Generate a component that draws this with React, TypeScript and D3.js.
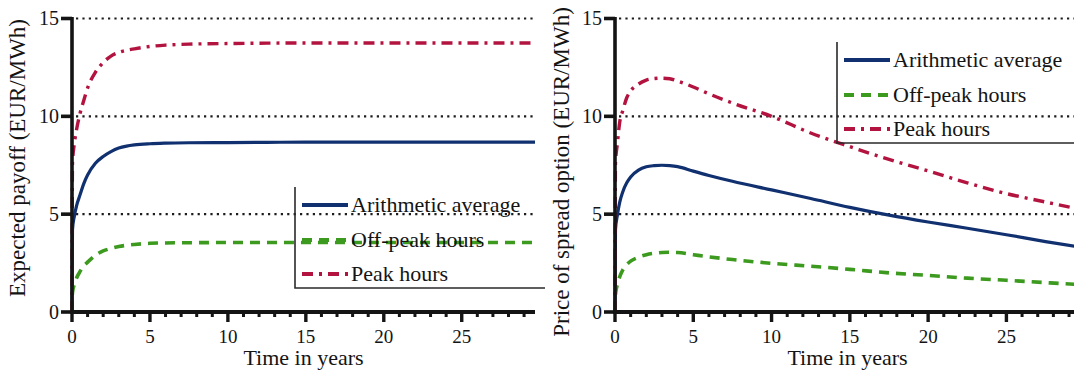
import React from "react";
import * as d3 from "d3";

// Maturity grid (years) shared by all series
const years = [0, 0.03, 0.15, 0.3, 0.5, 0.75, 1, 1.5, 2, 2.5, 3, 3.5, 4, 5, 6, 7.5, 10, 12.5, 15, 17.5, 20, 22.5, 25, 27.5, 29.7];

// Expected payoff (EUR/MWh)
const payoffArithmetic = [0, 4.2, 4.9, 5.45, 5.95, 6.55, 7.0, 7.6, 7.95, 8.2, 8.38, 8.48, 8.54, 8.6, 8.63, 8.65, 8.66, 8.67, 8.68, 8.68, 8.68, 8.68, 8.68, 8.68, 8.68];
const payoffOffPeak = [0, 1.0, 1.4, 1.75, 2.05, 2.35, 2.55, 2.9, 3.12, 3.25, 3.35, 3.41, 3.45, 3.51, 3.53, 3.54, 3.55, 3.55, 3.55, 3.55, 3.55, 3.55, 3.55, 3.55, 3.55];
const payoffPeak = [0, 7.6, 8.6, 9.35, 10.1, 10.8, 11.45, 12.25, 12.75, 13.08, 13.27, 13.38, 13.45, 13.57, 13.64, 13.69, 13.72, 13.74, 13.75, 13.75, 13.75, 13.75, 13.75, 13.75, 13.75];

// Price of spread option (EUR/MWh)
const priceArithmetic = [0, 4.2, 4.95, 5.6, 6.15, 6.6, 6.9, 7.25, 7.42, 7.48, 7.5, 7.48, 7.43, 7.2, 6.98, 6.68, 6.24, 5.8, 5.35, 4.95, 4.6, 4.28, 3.95, 3.6, 3.32];
const priceOffPeak = [0, 0.9, 1.4, 1.8, 2.15, 2.42, 2.6, 2.8, 2.93, 3.0, 3.04, 3.05, 3.04, 2.93, 2.82, 2.68, 2.49, 2.34, 2.18, 2.0, 1.87, 1.73, 1.62, 1.5, 1.4];
const pricePeak = [0, 7.6, 8.6, 9.7, 10.3, 10.95, 11.3, 11.65, 11.85, 11.93, 11.95, 11.92, 11.8, 11.5, 11.15, 10.68, 10.0, 9.15, 8.45, 7.8, 7.21, 6.6, 6.05, 5.62, 5.25];

const seriesNames = ["Arithmetic average", "Off-peak hours", "Peak hours"];
const yTicks = [0, 5, 10, 15];
const yGrid = [5, 10, 15];
const xMajorTicks = [0, 5, 10, 15, 20, 25];
const xMinorTicks = d3.range(1, 30).filter((v) => v % 5 !== 0);

const INK = "#141414";

const seriesStyle = [
  { color: "#10306f", width: 3.2, dash: "none" },
  { color: "#3c9a1e", width: 3.6, dash: "10,7" },
  { color: "#b3133f", width: 3.4, dash: "11,6,3,6" },
];

type PanelProps = {
  x0: number;
  x1: number;
  values: number[][];
  yTitle: string;
  yTitleX: number;
  yTitleY: number;
  legend: { left: number; top: number; right: number };
};

// Text inherits the page's default serif face
function Label(props: {
  x?: number;
  y?: number;
  size: number;
  anchor?: "start" | "middle" | "end";
  transform?: string;
  children: React.ReactNode;
}) {
  return (
    <text
      x={props.x}
      y={props.y}
      transform={props.transform}
      textAnchor={props.anchor || "start"}
      fill={INK}
      style={{ fontSize: props.size }}
    >
      {props.children}
    </text>
  );
}

function Panel({ x0, x1, values, yTitle, yTitleX, yTitleY, legend }: PanelProps) {
  const x = d3.scaleLinear().domain([0, 29.7]).range([x0, x1]);
  const y = d3.scaleLinear().domain([0, 15]).range([312, 18.5]);
  const line = d3
    .line<[number, number]>()
    .x((d) => x(d[0]))
    .y((d) => y(d[1]))
    .curve(d3.curveMonotoneX);

  const plotRight = x(29.7);
  const legendRows = [legend.top + 18, legend.top + 53, legend.top + 87];
  const legendBottom = legend.top + 101;

  return (
    <g>
      {/* dotted grid */}
      {yGrid.map((v) => (
        <line
          key={`g${v}`}
          x1={x0 + 4}
          x2={plotRight}
          y1={y(v)}
          y2={y(v)}
          stroke="#1c1c1c"
          strokeWidth={2.2}
          strokeDasharray="2.2,4.2"
        />
      ))}

      {/* curves */}
      {values.map((vals, i) => (
        <path
          key={`s${i}`}
          d={line(years.map((t, k) => [t, vals[k]] as [number, number])) || ""}
          fill="none"
          stroke={seriesStyle[i].color}
          strokeWidth={seriesStyle[i].width}
          strokeDasharray={seriesStyle[i].dash}
          strokeLinejoin="round"
        />
      ))}

      {/* axes */}
      <line x1={x0} x2={x0} y1={y(15) - 1.5} y2={y(0) + 2} stroke={INK} strokeWidth={3.6} />
      <line x1={x0 - 1.8} x2={plotRight} y1={y(0)} y2={y(0)} stroke={INK} strokeWidth={4} />
      {yTicks.map((v) => (
        <g key={`yt${v}`}>
          <line x1={x0 - 11} x2={x0} y1={y(v)} y2={y(v)} stroke={INK} strokeWidth={3.6} />
          <Label x={x0 - 13} y={y(v) + 6.5} anchor="end" size={20}>
            {v}
          </Label>
        </g>
      ))}
      {xMajorTicks.map((v) => (
        <g key={`xt${v}`}>
          <line x1={x(v)} x2={x(v)} y1={y(0)} y2={y(0) + 10} stroke={INK} strokeWidth={3.4} />
          <Label x={x(v)} y={343} anchor="middle" size={19}>
            {v}
          </Label>
        </g>
      ))}
      {xMinorTicks.map((v) => (
        <line key={`xm${v}`} x1={x(v)} x2={x(v)} y1={y(0)} y2={y(0) + 5} stroke={INK} strokeWidth={3} />
      ))}

      {/* axis titles */}
      <Label x={(x0 + plotRight) / 2} y={365} anchor="middle" size={22}>
        Time in years
      </Label>
      <Label transform={`translate(${yTitleX},${yTitleY}) rotate(-90)`} anchor="middle" size={23}>
        {yTitle}
      </Label>

      {/* legend */}
      <path
        d={`M${legend.left},${legend.top} V${legendBottom} H${legend.right}`}
        fill="none"
        stroke="#2a2a2a"
        strokeWidth={1.6}
      />
      {seriesNames.map((name, i) => (
        <g key={`lg${i}`}>
          <line
            x1={legend.left + 7}
            x2={legend.left + 53}
            y1={legendRows[i]}
            y2={legendRows[i]}
            stroke={seriesStyle[i].color}
            strokeWidth={seriesStyle[i].width + 0.6}
            strokeDasharray={seriesStyle[i].dash}
          />
          <Label x={legend.left + 56} y={legendRows[i] + 7} size={22}>
            {name}
          </Label>
        </g>
      ))}
    </g>
  );
}

export default function App() {
  return (
    <svg width={1074} height={374} style={{ position: "absolute", left: 0, top: 0 }}>
      <rect x={0} y={0} width={1074} height={374} fill="#fff" />
      <Panel
        x0={72}
        x1={535}
        values={[payoffArithmetic, payoffOffPeak, payoffPeak]}
        yTitle="Expected payoff (EUR/MWh)"
        yTitleX={25}
        yTitleY={158}
        legend={{ left: 295, top: 187, right: 545 }}
      />
      <Panel
        x0={615}
        x1={1080}
        values={[priceArithmetic, priceOffPeak, pricePeak]}
        yTitle="Price of spread option (EUR/MWh)"
        yTitleX={569}
        yTitleY={172}
        legend={{ left: 837, top: 42, right: 1080 }}
      />
    </svg>
  );
}
